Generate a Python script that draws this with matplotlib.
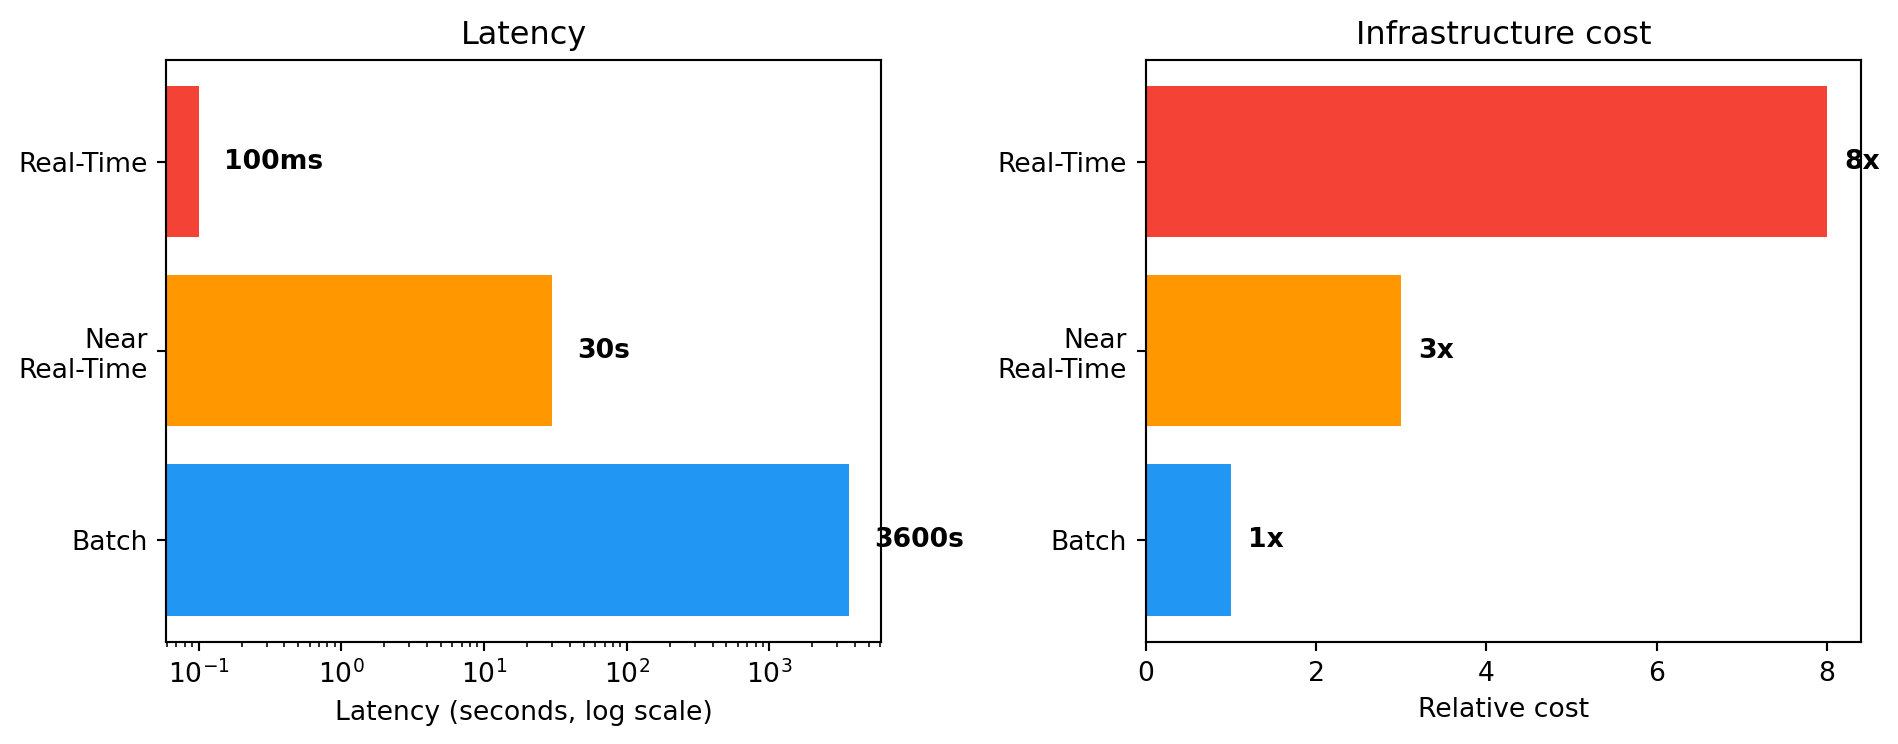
import matplotlib.pyplot as plt

categories = ["Batch", "Near\nReal-Time", "Real-Time"]
latency_s = [3600, 30, 0.1]
latency_labels = ["3600s", "30s", "100ms"]
cost = [1, 3, 8]
cost_labels = ["1x", "3x", "8x"]
colors = ["#2196F3", "#FF9800", "#F44336"]

# reference looks like defaults rendered at a higher dpi, so scale everything up
s = 1.28
plt.rcParams.update({
    "font.size": 10 * s,
    "axes.titlesize": 12 * s,
    "axes.titlepad": 6 * s,
    "axes.linewidth": 0.8 * s,
    "xtick.major.size": 3.5 * s,
    "ytick.major.size": 3.5 * s,
    "xtick.minor.size": 2 * s,
    "xtick.major.width": 0.8 * s,
    "ytick.major.width": 0.8 * s,
    "xtick.minor.width": 0.6 * s,
    "xtick.major.pad": 3.5 * s,
    "ytick.major.pad": 3.5 * s,
    "axes.labelpad": 4 * s,
})

fig, (ax1, ax2) = plt.subplots(1, 2, figsize=(1898 / 150, 744 / 150), dpi=150)
fig.subplots_adjust(left=0.0875, right=0.9805, bottom=0.137, top=0.92, wspace=0.37)

ax1.barh(categories, latency_s, color=colors)
ax1.set_xscale("log")
for i, (v, lab) in enumerate(zip(latency_s, latency_labels)):
    ax1.text(v * 1.5, i, lab, va="center", fontweight="bold")
ax1.set_title("Latency")
ax1.set_xlabel("Latency (seconds, log scale)")

ax2.barh(categories, cost, color=colors)
for i, (v, lab) in enumerate(zip(cost, cost_labels)):
    ax2.text(v + 0.2, i, lab, va="center", fontweight="bold")
ax2.set_title("Infrastructure cost")
ax2.set_xlabel("Relative cost")

fig.savefig("out.png", dpi=150)
